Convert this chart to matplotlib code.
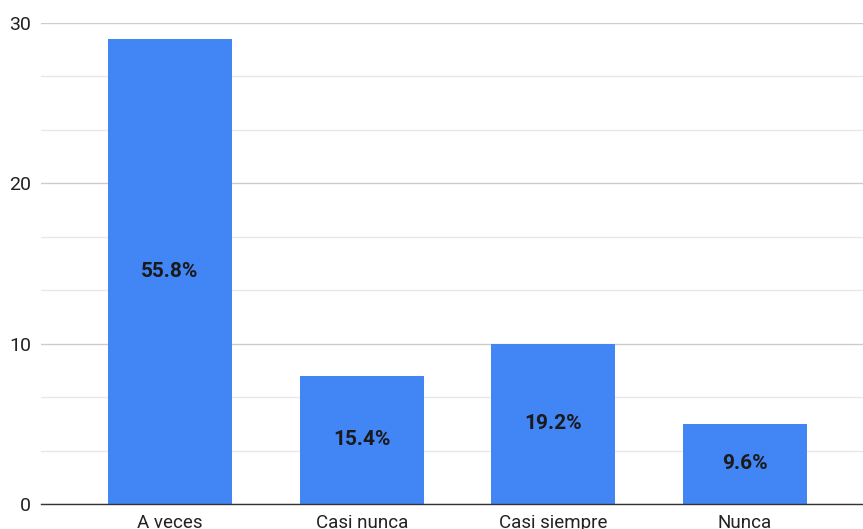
import matplotlib.pyplot as plt
import numpy as np

### Data
categories = ["A veces", "Casi nunca", "Casi siempre", "Nunca"]
counts = [29, 8, 10, 5]
percent_labels = ["55.8%", "15.4%", "19.2%", "9.6%"]

plt.rcParams['font.family'] = ['Roboto', 'DejaVu Sans']

fig = plt.figure(figsize=(8.63, 5.29), dpi=100)
ax = fig.add_axes([41 / 863, 25 / 529, 822 / 863, 481 / 529])

x = np.arange(len(categories))
bars = ax.bar(x, counts, width=0.647, color="#4285F4", zorder=3)

# Labels in the middle of each bar
for bar, label in zip(bars, percent_labels):
    ax.text(bar.get_x() + bar.get_width() / 2, bar.get_height() / 2, label,
            ha="center", va="center", fontsize=15, fontweight="bold", color="#1a1a1a", zorder=4)

ax.set_xlim(-0.673, 3.615)
ax.set_ylim(0, 30)
ax.set_xticks(x)
ax.set_xticklabels(categories, fontsize=13.5, color="#222222")
ax.set_yticks([0, 10, 20, 30])
ax.set_yticklabels(["0", "10", "20", "30"], fontsize=14, color="#222222")
ax.set_yticks(np.linspace(0, 30, 10), minor=True)

# Gridlines
ax.grid(axis="y", which="major", color="#cccccc", linewidth=1, zorder=0)
ax.grid(axis="y", which="minor", color="#e8e8e8", linewidth=1, zorder=0)
ax.tick_params(axis="both", which="both", length=0)
ax.tick_params(axis="x", pad=7)
ax.tick_params(axis="y", pad=7)

for side in ["top", "right", "left"]:
    ax.spines[side].set_visible(False)
ax.spines["bottom"].set_color("#333333")
ax.spines["bottom"].set_linewidth(1)
ax.spines["bottom"].set_zorder(5)

plt.savefig("out.png", dpi=100)
plt.close()
